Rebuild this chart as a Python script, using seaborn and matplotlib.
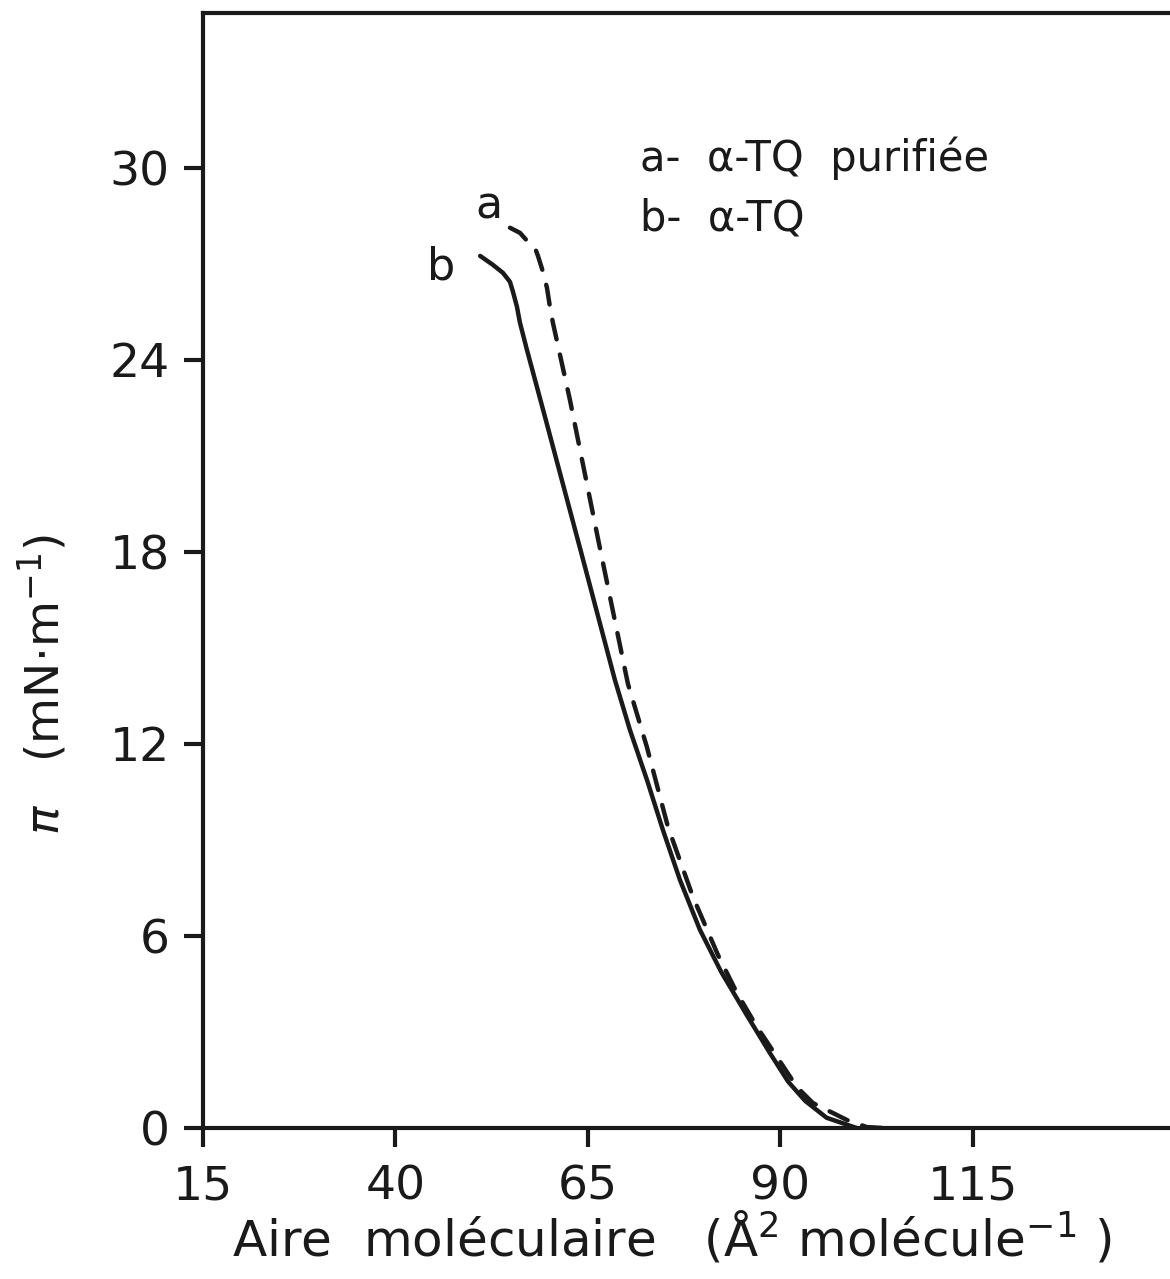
import matplotlib
matplotlib.use("Agg")
import matplotlib.pyplot as plt
import seaborn as sns
import pandas as pd

# --- data ---
area_a = [54.87, 56.17, 57.21, 58.12, 58.51, 59.16, 59.68, 60.06, 60.45, 62.66, 66.4, 70.19,
          72.66, 75.39, 78.64, 81.88, 84.35, 86.95, 89.55, 92.14, 94.22, 98.64, 101.2, 103.3]
pi_a = [28.13, 27.97, 27.69, 27.5, 27.25, 26.75, 26.25, 25.66, 25.16, 22.75, 18.3, 13.88,
        11.9, 9.41, 7.22, 5.41, 4.22, 3.16, 2.22, 1.28, 0.78, 0.25, 0.03, 0.0]

area_b = [51.0, 52.66, 53.96, 54.87, 55.26, 55.78, 56.17, 57.08, 59.42, 64.1, 68.5, 70.45,
          72.66, 74.74, 76.95, 79.55, 82.3, 85.65, 88.64, 91.0, 93.2, 96.0, 99.9]
pi_b = [27.25, 26.97, 26.72, 26.44, 26.13, 25.66, 25.16, 24.31, 22.22, 18.0, 14.0, 12.44,
        10.88, 9.31, 7.75, 6.19, 4.88, 3.52, 2.34, 1.45, 0.85, 0.32, 0.0]

x_ticks = [15, 40, 65, 90, 115]
y_ticks = [0, 6, 12, 18, 24, 30]

legend_lines = ["a-  α-TQ  purifiée", "b-  α-TQ"]

sns.set_theme(style="ticks")
plt.rcParams['font.family'] = ['DejaVu Sans']

fig = plt.figure(figsize=(11.7, 12.79), dpi=100)
ax = fig.add_axes([203/1170, 151/1279, 1 - 203/1170, (1128-13)/1279])

df_a = pd.DataFrame({"area": area_a, "pi": pi_a})
df_b = pd.DataFrame({"area": area_b, "pi": pi_b})

ink = "#1a1a1a"
sns.lineplot(data=df_b, x="area", y="pi", ax=ax, color=ink, lw=3.2, sort=False, estimator=None)
sns.lineplot(data=df_a, x="area", y="pi", ax=ax, color=ink, lw=3.2, sort=False, estimator=None,
             linestyle=(0, (4.5, 3.5)))
for ln in ax.get_lines():
    ln.set_solid_joinstyle('round')
    ln.set_dash_joinstyle('round')
    ln.set_dash_capstyle('round')

ax.set_xlim(15, 140.6)
ax.set_ylim(0, 34.84)
ax.set_xticks(x_ticks)
ax.set_yticks(y_ticks)
ax.set_xticklabels([str(v) for v in x_ticks])
ax.set_yticklabels([str(v) for v in y_ticks])
ax.tick_params(axis='both', direction='out', length=14, width=3, color=ink,
               labelsize=34, labelcolor=ink)
ax.tick_params(axis='x', pad=12)
ax.tick_params(axis='y', pad=10)
ax.set_xlabel("")
ax.set_ylabel("")

for s in ['left', 'bottom', 'top']:
    ax.spines[s].set_linewidth(3)
    ax.spines[s].set_color(ink)
ax.spines['right'].set_visible(False)

# curve labels
ax.text(52.2, 28.8, "a", fontsize=32, color=ink, ha='center', va='center')
ax.text(45.9, 26.9, "b", fontsize=32, color=ink, ha='center', va='center')

# legend text
fig.text(640/1170, 1 - 158/1279, legend_lines[0], fontsize=30, color=ink, ha='left', va='center')
fig.text(640/1170, 1 - 218/1279, legend_lines[1], fontsize=30, color=ink, ha='left', va='center')

# axis labels
fig.text(672/1170, 1 - 1237/1279, "Aire  moléculaire   (Å$^{2}$ molécule$^{-1}$ )",
         fontsize=36, color=ink, ha='center', va='center')
fig.text(42/1170, 1 - 684/1279, r"$\pi$   (mN$\cdot$m$^{-1}$)",
         fontsize=34, color=ink, ha='center', va='center', rotation=90)

fig.savefig("out.png", dpi=100, facecolor="white")
